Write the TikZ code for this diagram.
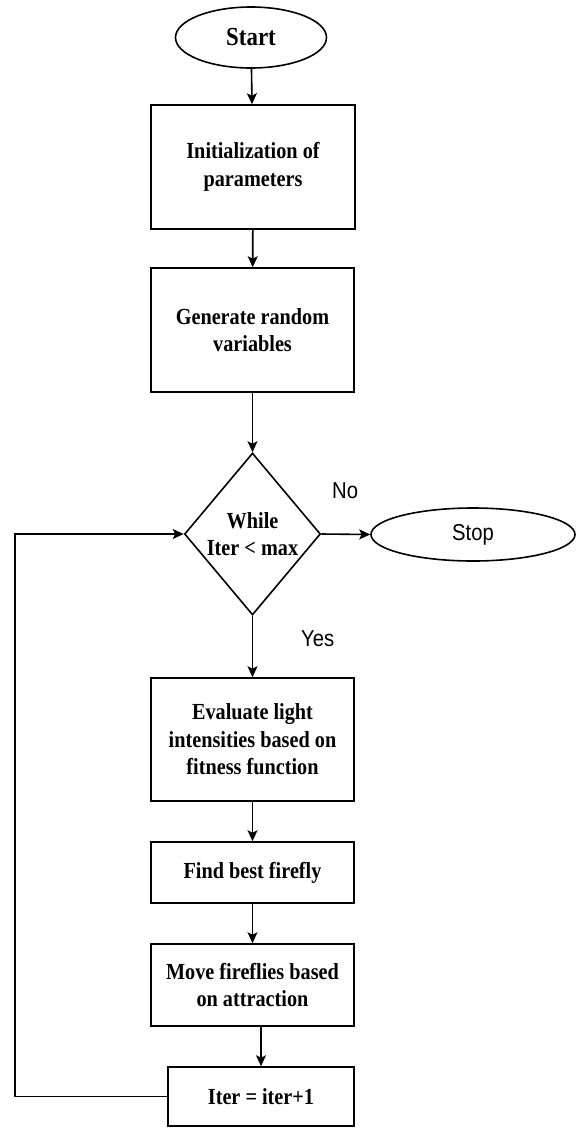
\documentclass[tikz,border=0pt]{standalone}
\usepackage{fontspec}
\newfontfamily\serifc[FakeStretch=0.88]{Liberation Serif}
\newfontfamily\sansc[FakeStretch=0.88]{Liberation Sans}
\usetikzlibrary{shapes.geometric,arrows.meta}
\begin{document}
\begin{tikzpicture}[x=1pt,y=-1pt,
  lw/.style={line width=1.6pt},
  txt/.style={font=\serifc\bfseries\fontsize{23}{27.5}\selectfont},
  box/.style={draw,lw,rectangle,inner sep=0pt,align=center,txt},
  term/.style={draw,lw,ellipse,inner sep=0pt,align=center},
  decis/.style={draw,lw,diamond,aspect=0.84,inner sep=0pt,align=center,txt,minimum width=136,minimum height=162},
  arr/.style={lw,-{Stealth[length=11pt,width=10pt,inset=2.5pt]}},
  lab/.style={inner sep=0pt,anchor=base west,font=\sansc\fontsize{23}{27}\selectfont}
]
\useasboundingbox (0,0) rectangle (576,1128);
\node[term,minimum width=151,minimum height=61,font=\serifc\bfseries\fontsize{26}{30}\selectfont] (start) at (251,37.5) {Start};
\node[box,minimum width=204,minimum height=124] (init) at (253,167) {Initialization of\\parameters};
\node[box,minimum width=203,minimum height=124] (gen) at (252.5,330) {Generate random\\variables};
\node[decis] (dia) at (252.5,534) {While\\Iter {<} max};
\node[term,minimum width=204,minimum height=53,font=\sansc\fontsize{23}{27}\selectfont] (stop) at (473,534.5) {Stop};
\node[box,minimum width=203,minimum height=123] (eval) at (252.5,739.5) {Evaluate light\\intensities based on\\fitness function};
\node[box,minimum width=203,minimum height=61] (find) at (252.5,872.5) {Find best firefly};
\node[box,minimum width=203,minimum height=82] (move) at (252.5,985) {Move fireflies based\\on attraction};
\node[box,minimum width=186,minimum height=59] (iter) at (261,1096.5) {Iter = iter+1};
\node[lab] (no) at (332,498) {No};
\node[lab] (yes) at (301,646) {Yes};
\coordinate (lc) at (15,0);
\draw[arr] (start) -- (init);
\draw[arr] (init) -- (gen);
\draw[arr] (gen) -- (dia);
\draw[arr] (dia.east) -- (stop.west);
\draw[arr] (dia.south) -- (eval.north);
\draw[arr] (eval) -- (find);
\draw[arr] (find) -- (move);
\draw[arr] (move.south -| iter.north) -- (iter.north);
\draw[arr] (iter.west) -- (iter.west -| lc) |- (dia.west);
\end{tikzpicture}
\end{document}
